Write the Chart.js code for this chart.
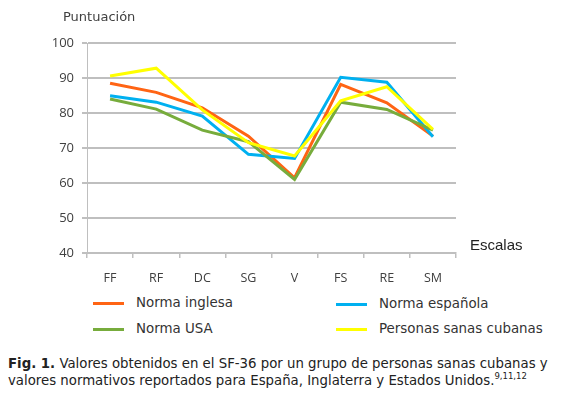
<!DOCTYPE html>
<html>
<head>
<meta charset="utf-8">
<script src="https://cdn.jsdelivr.net/npm/chart.js@4/dist/chart.umd.min.js"></script>
<style>
  body { margin: 0; background: #fff; }
  #wrap { position: relative; width: 564px; height: 398px; overflow: hidden; }
  #chart { position: absolute; left: 0; top: 0; }
  .lbl { position: absolute; color: #404040; white-space: nowrap; }
  #ytitle { left: 63px; top: 9px; font: 13px "DejaVu Sans"; }
  #xtitle { left: 470px; top: 236px; font: 15px "Liberation Sans"; color: #222; }
  .leg { position: absolute; font: 13.4px "DejaVu Sans"; color: #333; white-space: nowrap; }
  .leg span { position: absolute; left: 0; top: 7px; width: 31px; height: 3px; }
  .leg b { font-weight: normal; position: absolute; left: 43px; top: 0; }
  #caption { position: absolute; left: 8px; top: 355px; width: 556px; font: 13.3px "DejaVu Sans"; line-height: 17px; color: #222; white-space: nowrap; }
  #caption sup { font-size: 8.5px; line-height: 0; vertical-align: 6px; }
</style>
</head>
<body>
<div id="wrap">
  <canvas id="chart" width="564" height="290"></canvas>
  <div class="lbl" id="ytitle">Puntuación</div>
  <div class="lbl" id="xtitle">Escalas</div>
  <div id="legend"></div>
  <div id="caption"><b>Fig. 1.</b> Valores obtenidos en el SF-36 por un grupo de personas sanas cubanas y<br>valores normativos reportados para España, Inglaterra y Estados Unidos.<sup>9,11,12</sup></div>
</div>
<script>
var escalas = ["FF", "RF", "DC", "SG", "V", "FS", "RE", "SM"];
var normaInglesa = [88.5, 85.9, 81.5, 73.4, 61.5, 88.2, 82.9, 73.4];
var normaEspanola = [84.9, 83.1, 79.1, 68.2, 67.0, 90.2, 88.8, 73.2];
var normaUSA = [84.0, 81.1, 75.1, 71.8, 61.0, 83.1, 81.0, 75.1];
var sanasCubanas = [90.6, 92.8, 80.9, 71.5, 67.7, 83.5, 87.5, 75.3];
var yTicks = [40, 50, 60, 70, 80, 90, 100];

var series = [
    {label: "Norma inglesa", data: normaInglesa, color: "#FF6414", order: 4, x: 93, y: 295},
    {label: "Norma española", data: normaEspanola, color: "#00B0F0", order: 3, x: 336, y: 296},
    {label: "Norma USA", data: normaUSA, color: "#77AC3C", order: 2, x: 93, y: 321},
    {label: "Personas sanas cubanas", data: sanasCubanas, color: "#FFFF00", order: 1, x: 336, y: 321}
];

// html legend, two columns like the figure
var legend = document.getElementById("legend");
series.forEach(function(s) {
    var d = document.createElement("div");
    d.className = "leg";
    d.style.left = s.x + "px";
    d.style.top = s.y + "px";
    d.innerHTML = '<span style="background:' + s.color + '"></span><b>' + s.label + '</b>';
    legend.appendChild(d);
});

var grey = "#BFBFBF";
var ctx = document.getElementById("chart").getContext("2d");
var chart = new Chart(ctx, {
    type: "line",
    data: {
        labels: escalas,
        datasets: series.map(function(s) {
            return {
                label: s.label,
                data: s.data,
                borderColor: s.color,
                backgroundColor: s.color,
                borderWidth: 3,
                pointRadius: 0,
                tension: 0,
                order: s.order
            };
        })
    },
    options: {
        responsive: false,
        animation: false,
        layout: { padding: { left: 0, top: 43, right: 108, bottom: 7 } },
        plugins: { legend: { display: false }, tooltip: { enabled: false } },
        scales: {
            x: {
                offset: true,
                grid: { offset: true, drawOnChartArea: false, color: grey, tickLength: 5, lineWidth: 1.5 },
                border: { color: grey, width: 1.5 },
                ticks: { color: "#404040", font: { family: "Open Sans", size: 12.5 }, padding: 13, maxRotation: 0 },
                afterFit: function(scale) { scale.height = 30; }
            },
            y: {
                min: 40,
                max: 100,
                afterBuildTicks: function(scale) {
                    scale.ticks = yTicks.map(function(v) { return {value: v}; });
                },
                grid: { color: grey, tickLength: 5, lineWidth: 2 },
                border: { color: grey, width: 1 },
                ticks: { color: "#404040", font: { family: "Open Sans", size: 13 }, padding: 8 },
                afterFit: function(scale) { scale.width = 87; }
            }
        }
    }
});
</script>
</body>
</html>
